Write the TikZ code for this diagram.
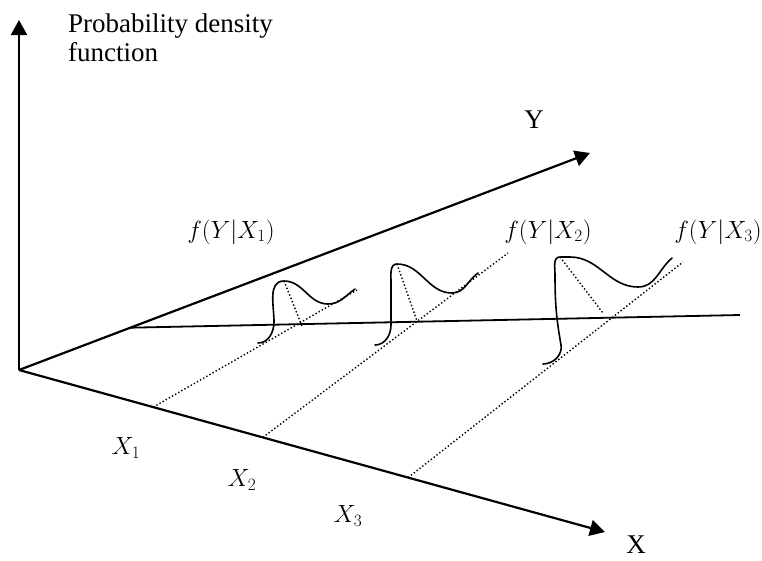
\documentclass[tikz,border=0pt]{standalone}
\usepackage{fontspec}
\setmainfont{Liberation Serif}
\usepackage{tikz}
\usetikzlibrary{calc, arrows.meta}
\tikzset{
  axis/.style={line width=2.2pt,-{Triangle[length=15pt,width=16pt]}},
  plain/.style={line width=1.8pt},
  dens/.style={line width=1.6pt,line cap=round},
  guide/.style={line width=1.4pt,dash pattern=on 1.4pt off 2.2pt},
  txt/.style={font=\fontsize{27}{29}\selectfont,inner sep=0pt,align=left},
  lbl/.style={font=\fontsize{25}{30}\selectfont,inner sep=0pt},
}

\begin{document}
\begin{tikzpicture}[x=1pt,y=-1pt]
  \useasboundingbox (0,0) rectangle (762,560);
  \coordinate (O) at (19,370);
  \coordinate (ztop) at (19,20);
  \coordinate (ytip) at (590,153);
  \coordinate (xtip) at (605,532);
  \draw[axis] (O) -- (ztop);
  \draw[axis] (O) -- (ytip);
  \draw[axis] (O) -- (xtip);
  \node[txt,anchor=north west] (pdf) at (68,14) {Probability density\\function};
  \node[txt] (ylab) at (534,120) {Y};
  \node[txt] (xlab) at (636,545) {X};
  % regression line
  \coordinate (h0) at ($(O)!0.195!(ytip)$);
  \coordinate (h1) at (740,315);
  \draw[plain] (h0) -- (h1);
  % guides from the X axis
  \coordinate (a1) at ($(O)!0.229!(xtip)$);
  \coordinate (a2) at ($(O)!0.416!(xtip)$);
  \coordinate (a3) at ($(O)!0.664!(xtip)$);
  \coordinate (b1) at (357,290);
  \coordinate (b2) at (508,253);
  \coordinate (b3) at (683,262);
  \draw[guide] (a1) -- (b1);
  \draw[guide] (a2) -- (b2);
  \draw[guide] (a3) -- (b3);
  \node[lbl] (x1) at (126,448) {$X_1$};
  \node[lbl] (x2) at (242,480) {$X_2$};
  \node[lbl] (x3) at (348,516) {$X_3$};
  % densities
  \coordinate (p1) at (284,281);
  \coordinate (p2) at (397,264);
  \coordinate (p3) at (560,257);
  \draw[dens] (258,343) to[out=0,in=-90] (274,322) to[out=90,in=180] (p1)
    to[out=0,in=180] (328,304) to[out=0,in=215] (355,289);
  \draw[dens] (375,345) to[out=0,in=-90] (391,325) -- (391,282)
    to[out=90,in=180] (p2) to[out=0,in=180] (452,293) to[out=0,in=215] (478,273);
  \draw[dens] (543,364) to[out=0,in=-80] (561,345) to[out=100,in=-90] (555,275)
    to[out=90,in=180] (p3) -- (570,257) to[out=0,in=180] (638,287)
    to[out=0,in=220] (672,258);
  \draw[guide] (p1) -- (302,326);
  \draw[guide] (p2) -- (417,321);
  \draw[guide] (p3) -- (603,313);
  \node[lbl] (f1) at (231,232) {$f(Y|X_1)$};
  \node[lbl] (f2) at (548,232) {$f(Y|X_2)$};
  \node[lbl] (f3) at (718,232) {$f(Y|X_3)$};
\end{tikzpicture}
\end{document}
